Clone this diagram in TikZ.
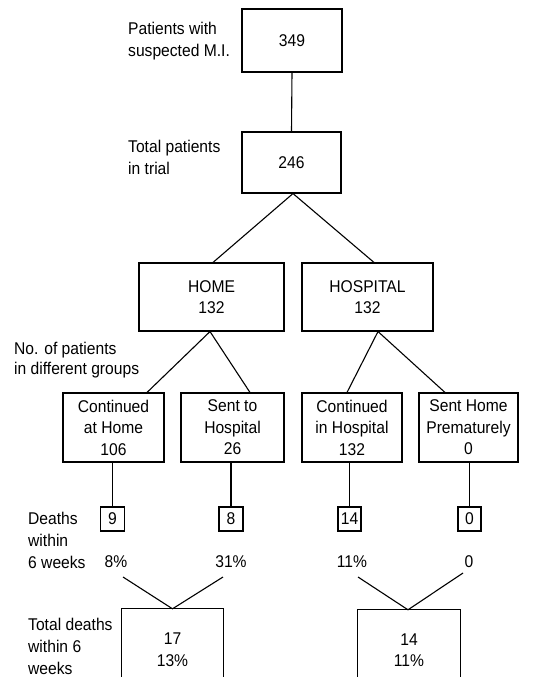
\documentclass[tikz,border=0pt]{standalone}
\usepackage{fontspec}
\setmainfont{Liberation Sans}[FakeStretch=0.92]
\begin{document}
\begin{tikzpicture}[x=1pt,y=-1pt,
  txt/.style={font=\fontsize{17}{21.5}\selectfont, inner sep=0pt, align=center},
  lbl/.style={font=\fontsize{17}{22}\selectfont, inner sep=0pt, align=left, anchor=west},
  box/.style={txt, draw, line width=1.1pt},
  conn/.style={line width=1.1pt}]
\useasboundingbox (0,0) rectangle (547,677);
\clip (0,0) rectangle (547,677);
% main boxes
\node[box, minimum width=100pt, minimum height=63pt] (b349) at (292,40.5) {349};
\node[box, minimum width=99pt, minimum height=61pt] (b246) at (291.5,162.5) {246};
\node[box, minimum width=145pt, minimum height=68pt] (home) at (211.5,297) {HOME\\132};
\node[box, minimum width=131pt, minimum height=68pt] (hosp) at (367.5,297) {HOSPITAL\\132};
\node[box, minimum width=101pt, minimum height=69pt] (l1) at (113.5,427.5) {Continued\\at Home\\106};
\node[box, minimum width=103pt, minimum height=69pt] (l2) at (232.5,427.5) {Sent to\\Hospital\\26};
\node[box, minimum width=100pt, minimum height=69pt] (l3) at (352,427.5) {Continued\\in Hospital\\132};
\node[box, minimum width=99pt, minimum height=69pt] (l4) at (468.5,427.5) {Sent Home\\Prematurely\\0};
% small death boxes
\node[box, minimum width=24pt, minimum height=24pt] (d1) at (112.5,519) {9};
\node[box, minimum width=24pt, minimum height=24pt] (d2) at (231,519) {8};
\node[box, minimum width=23pt, minimum height=24pt] (d3) at (349.5,519) {14};
\node[box, minimum width=23pt, minimum height=24pt] (d4) at (469.5,519) {0};
% percentages
\node[txt] (p1) at (116,562) {8\%};
\node[txt] (p2) at (231,562) {31\%};
\node[txt] (p3) at (352,562) {11\%};
\node[txt] (p4) at (469,562) {0};
% bottom boxes (open at the bottom edge)
\node[txt, minimum width=101pt, minimum height=81pt] (t1) at (172.5,649.5) {17\\13\%};
\node[txt, minimum width=102pt, minimum height=80pt] (t2) at (409,650) {14\\11\%};
\draw[conn] (t1.south west) -- (t1.north west) -- (t1.north east) -- (t1.south east);
\draw[conn] (t2.south west) -- (t2.north west) -- (t2.north east) -- (t2.south east);
% labels
\node[lbl] (s1) at (128,41) {Patients with\\suspected M.I.};
\node[lbl] (s2) at (128,157) {Total patients\\in trial};
\node[lbl, font=\fontsize{17}{20}\selectfont] (s3) at (14,360) {No. of patients\\in different groups};
\node[lbl] (s4) at (28,540) {Deaths\\within\\6 weeks};
\node[lbl] (s5) at (28,646.5) {Total deaths\\within 6\\weeks};
% connectors
\draw[conn] (b349.south) -- (b246.north);
\draw[conn] ([xshift=1.5pt]b246.south) -- ([xshift=1.5pt]home.north);
\draw[conn] ([xshift=1.5pt]b246.south) -- ([xshift=6.5pt]hosp.north);
\draw[conn] ([xshift=-1.5pt]home.south) -- ([xshift=33.5pt]l1.north);
\draw[conn] ([xshift=-1.5pt]home.south) -- ([xshift=17.5pt]l2.north);
\draw[conn] ([xshift=10.5pt]hosp.south) -- ([xshift=-5pt]l3.north);
\draw[conn] ([xshift=10.5pt]hosp.south) -- ([xshift=-23.5pt]l4.north);
\draw[conn] (d1.north) -- (d1.north |- l1.south);
\draw[conn] (d2.north) -- (d2.north |- l2.south);
\draw[conn] (d3.north) -- (d3.north |- l3.south);
\draw[conn] (d4.north) -- (d4.north |- l4.south);
\coordinate (c1) at (123,577);
\coordinate (c2) at (223,577);
\coordinate (c3) at (358,577);
\coordinate (c4) at (463,573);
\draw[conn] (c1) -- (t1.north) -- (c2);
\draw[conn] (c3) -- ([xshift=-1pt]t2.north) -- (c4);
\end{tikzpicture}
\end{document}
